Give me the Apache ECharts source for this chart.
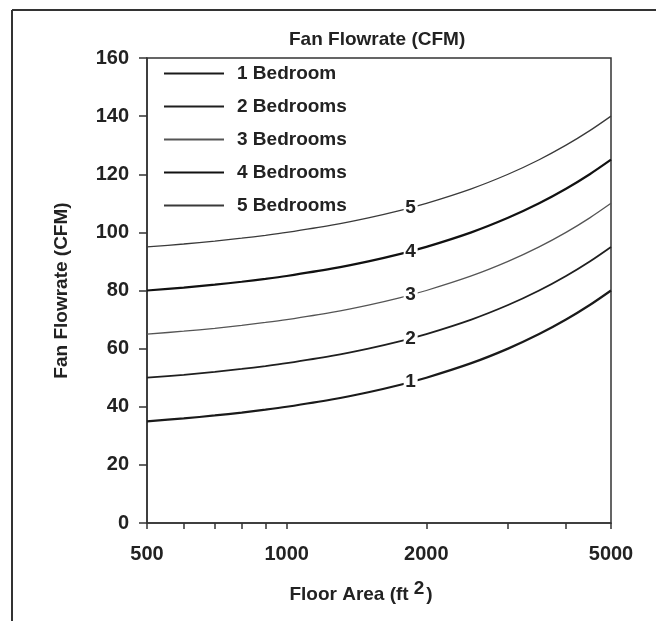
<!DOCTYPE html>
<html>
<head>
<meta charset="utf-8">
<script src="https://cdn.jsdelivr.net/npm/echarts@6/dist/echarts.min.js"></script>
<style>
html,body{margin:0;padding:0;background:#fff;}
#chart{width:656px;height:621px;}
</style>
</head>
<body>
<div id="chart"></div>
<script>
// Floor area (ft²) sample points
const floorArea = [500, 600, 700, 800, 900, 1000, 1250, 1500, 1750, 2000, 2500, 3000, 3500, 4000, 4500, 5000];
// Fan flowrate (CFM)
const bed1 = [35, 36, 37, 38, 39, 40, 42.5, 45, 47.5, 50, 55, 60, 65, 70, 75, 80];
const bed2 = [50, 51, 52, 53, 54, 55, 57.5, 60, 62.5, 65, 70, 75, 80, 85, 90, 95];
const bed3 = [65, 66, 67, 68, 69, 70, 72.5, 75, 77.5, 80, 85, 90, 95, 100, 105, 110];
const bed4 = [80, 81, 82, 83, 84, 85, 87.5, 90, 92.5, 95, 100, 105, 110, 115, 120, 125];
const bed5 = [95, 96, 97, 98, 99, 100, 102.5, 105, 107.5, 110, 115, 120, 125, 130, 135, 140];
const seriesNames = ['1 Bedroom', '2 Bedrooms', '3 Bedrooms', '4 Bedrooms', '5 Bedrooms'];
const curveTags = ['1', '2', '3', '4', '5'];
// inline curve labels: where they sit on each curve
const tagArea = 1850;
const tagValues = [48.5, 63.5, 78.5, 93.5, 108.5];
// axis ticks
const xLabelValues = [500, 1000, 2000, 5000];
const xTickValues = [500, 600, 700, 800, 900, 1000, 2000, 3000, 4000, 5000];

const allSeries = [bed1, bed2, bed3, bed4, bed5];
const widths = [2.2, 1.8, 1.3, 2.2, 1.3];
const colors = ['#1a1a1a', '#1f1f1f', '#555555', '#111111', '#3a3a3a'];
const FONT = '"Liberation Sans", Arial, sans-serif';

const chart = echarts.init(document.getElementById('chart'), null, {renderer: 'canvas'});
const option = {
  backgroundColor: '#fff',
  animation: false,
  title: {
    text: 'Fan Flowrate (CFM)',
    left: 284, top: 25,
    textStyle: {fontFamily: FONT, fontSize: 19, fontWeight: 'bold', color: '#222'}
  },
  legend: {
    orient: 'vertical',
    left: 158, top: 59,
    itemWidth: 60, itemHeight: 14, itemGap: 14,
    icon: 'inherit',
    itemStyle: {opacity: 0},
    textStyle: {fontFamily: FONT, fontSize: 19, fontWeight: 'bold', color: '#222', padding: [0, 0, 0, 8]},
    data: seriesNames
  },
  grid: {left: 147, right: 45, top: 58, bottom: 98, show: true, borderColor: '#333', borderWidth: 1.5},
  xAxis: {
    type: 'log', logBase: 10, min: 500, max: 5000,
    name: '{a|Floor Area (ft}{s|2}{a|)}',
    nameLocation: 'middle', nameGap: 56,
    nameTextStyle: {
      padding: [0, 36, 0, 0],
      rich: {
        a: {fontFamily: FONT, fontSize: 19, fontWeight: 'bold', color: '#222', lineHeight: 32, verticalAlign: 'middle'},
        s: {fontFamily: FONT, fontSize: 19, fontWeight: 'bold', color: '#222', lineHeight: 19, verticalAlign: 'top', padding: [0, 2, 0, 5]}
      }
    },
    axisLine: {show: true, lineStyle: {color: '#333', width: 1.5}},
    axisTick: {show: true, inside: false, length: 6, lineStyle: {color: '#333', width: 1.5}, customValues: xTickValues},
    axisLabel: {show: true, customValues: xLabelValues, margin: 21, fontFamily: FONT, fontSize: 20, fontWeight: 'bold', color: '#222',
      formatter: v => String(Math.round(v))},
    splitLine: {show: false},
    minorTick: {show: false}
  },
  yAxis: {
    type: 'value', min: 0, max: 160, interval: 20,
    name: 'Fan Flowrate (CFM)',
    nameLocation: 'middle', nameGap: 76,
    nameTextStyle: {fontFamily: FONT, fontSize: 19, fontWeight: 'bold', color: '#222'},
    axisLine: {show: true, lineStyle: {color: '#333', width: 1.5}},
    axisTick: {show: true, inside: false, length: 8, lineStyle: {color: '#333', width: 1.5}},
    axisLabel: {margin: 18, fontFamily: FONT, fontSize: 20, fontWeight: 'bold', color: '#222'},
    splitLine: {show: false}
  },
  graphic: [
    {type: 'line', shape: {x1: 12, y1: 10, x2: 656, y2: 10}, style: {stroke: '#333', lineWidth: 2}},
    {type: 'line', shape: {x1: 12, y1: 10, x2: 12, y2: 621}, style: {stroke: '#333', lineWidth: 2}}
  ],
  series: allSeries.map((vals, i) => ({
    name: seriesNames[i],
    type: 'line',
    symbol: 'none',
    smooth: 0.3,
    lineStyle: {color: colors[i], width: widths[i]},
    itemStyle: {color: colors[i]},
    data: floorArea.map((a, j) => [a, vals[j]]),
    z: 2,
    markPoint: {
      symbol: 'rect', symbolSize: [14, 18],
      itemStyle: {color: '#fff'},
      label: {show: true, position: 'inside', formatter: curveTags[i], fontFamily: FONT, fontSize: 19, fontWeight: 'bold', color: '#222'},
      data: [{coord: [tagArea, tagValues[i]], value: curveTags[i]}],
      silent: true
    }
  }))
};
chart.setOption(option);
</script>
</body>
</html>
